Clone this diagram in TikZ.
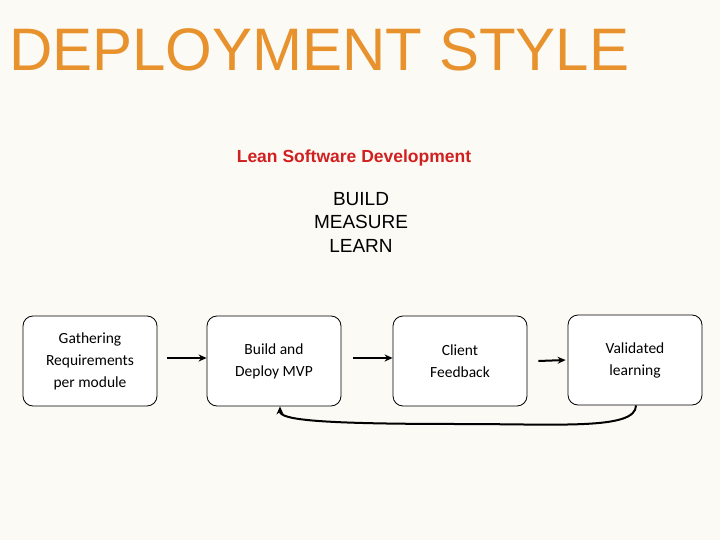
\documentclass[tikz,border=0pt]{standalone}
\usepackage{fontspec}
\setmainfont{Liberation Sans}
\newfontfamily\calfont{Carlito}
\usetikzlibrary{arrows.meta}
\definecolor{bg}{HTML}{FCFAF5}
\definecolor{ttl}{HTML}{E8922E}
\definecolor{lred}{HTML}{D02020}
\tikzset{box/.style={draw,rounded corners=10pt,minimum width=134pt,minimum height=90pt,align=center,font=\calfont\fontsize{15.5}{22}\selectfont,fill=white,line width=0.8pt},
arr/.style={-{Stealth[length=8pt,width=7pt]},line width=2pt}}
\begin{document}
\begin{tikzpicture}[x=1pt,y=-1pt]
\fill[bg] (0,0) rectangle (720,540);
\useasboundingbox (0,0) rectangle (720,540);
\node[anchor=west,text=ttl,font=\fontsize{60}{64}\selectfont,inner sep=0] (title) at (9,50) {DEPLOYMENT STYLE};
\node[text=lred,font=\bfseries\fontsize{17.5}{20}\selectfont] (lean) at (354,158) {Lean Software Development};
\node[align=center,font=\fontsize{19}{23.5}\selectfont] (bml) at (361,222) {BUILD\\MEASURE\\LEARN};
\node[box] (b1) at (90,361) {Gathering\\Requirements\\per module};
\node[box] (b2) at (274,361) {Build and\\Deploy MVP};
\node[box] (b3) at (460,361) {Client\\Feedback};
\node[box] (b4) at (635,360) {Validated\\learning};
\draw[arr] ([xshift=10pt,yshift=3pt]b1.east) -- ([yshift=3pt]b2.west);
\draw[arr] ([xshift=12pt,yshift=3pt]b2.east) -- ([yshift=3pt]b3.west);
\draw[arr] ([xshift=11pt]b3.east) -- ([xshift=-2pt]b4.west);
\draw[arr] ([xshift=1pt]b4.south) .. controls (636,430) and (560,424) .. (460,424) .. controls (320,424) and (280,420) .. ([xshift=6pt]b2.south);
\end{tikzpicture}
\end{document}
